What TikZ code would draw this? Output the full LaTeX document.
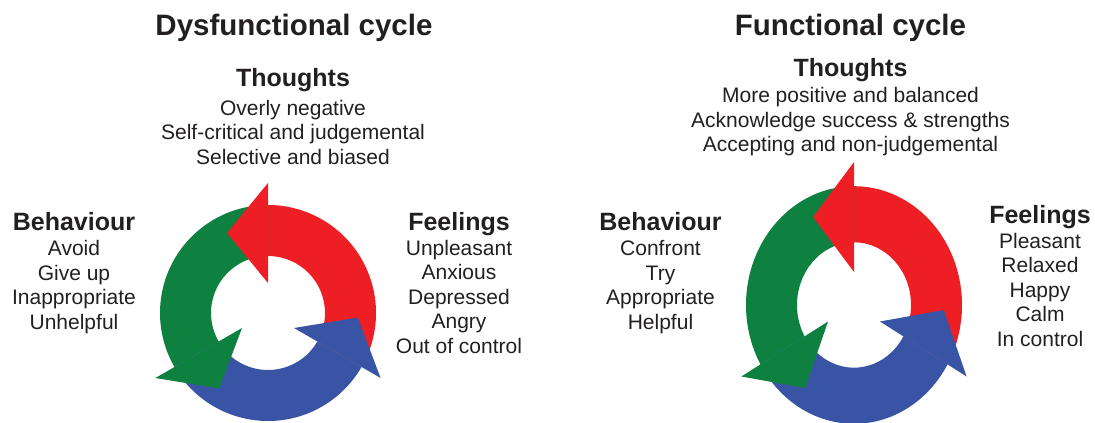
\documentclass[tikz,border=0pt]{standalone}
\usepackage{fontspec}
\setmainfont{Liberation Sans}
\definecolor{ink}{RGB}{35,31,32}
\definecolor{cycred}{RGB}{237,31,36}
\definecolor{cycgreen}{RGB}{14,128,63}
\definecolor{cycblue}{RGB}{57,84,164}
% centred lines whose baseline is that of the first line
\newcommand\stackedlines[1]{\begin{tabular}[t]{@{}c@{}}#1\end{tabular}}
\tikzset{
  cycletitle/.style={font=\fontsize{29.5}{34}\selectfont\bfseries, text=ink, inner sep=0pt, anchor=base},
  heading/.style={font=\fontsize{25}{30}\selectfont\bfseries, text=ink, inner sep=0pt, anchor=base},
  bodytext/.style={font=\fontsize{21}{24.5}\selectfont, text=ink, inner sep=0pt, anchor=base},
  % three arrows chasing each other round a ring
  cyclering/.pic={
    % ring segments (bodies)
    \foreach \from/\to/\col in {-30/90/cycred, 90/210/cycgreen, 210/330/cycblue}{
      \fill[\col] (\from:108) arc[start angle=\from, end angle=\to, radius=108]
        -- (\to:57) arc[start angle=\to, end angle=\from, radius=57] -- cycle;
    }
    % arrow heads, each lying over the next body
    \foreach \base/\tip/\col in {90/117.1/cycred, 210/237.1/cycgreen, 330/357.1/cycblue}{
      \fill[\col] (\base:30) -- (\base:130) -- (\tip:89.9) -- cycle;
    }
  }
}
\begin{document}
\begin{tikzpicture}[x=1pt,y=-1pt]
\useasboundingbox (0,0) rectangle (1095,423);

% dysfunctional cycle
\node[cycletitle] (dtitle) at (294,35) {Dysfunctional cycle};
\node[heading] (dthoughts) at (293,86.7) {Thoughts};
\node[bodytext] (dthoughtsb) at (293,115) {\stackedlines{Overly negative\\Self-critical and judgemental\\Selective and biased}};
\node[heading] (dbehav) at (74,230) {Behaviour};
\node[bodytext] (dbehavb) at (74,255.7) {\stackedlines{Avoid\\Give up\\Inappropriate\\Unhelpful}};
\node[heading] (dfeel) at (459,230) {Feelings};
\node[bodytext] (dfeelb) at (459,255.3) {\stackedlines{Unpleasant\\Anxious\\Depressed\\Angry\\Out of control}};
\pic[yscale=-1] (dring) at (268,313) {cyclering};

% functional cycle
\node[cycletitle] (ftitle) at (850.5,35) {Functional cycle};
\node[heading] (fthoughts) at (850.5,76) {Thoughts};
\node[bodytext] (fthoughtsb) at (850.5,102.7) {\stackedlines{More positive and balanced\\Acknowledge success \& strengths\\Accepting and non-judgemental}};
\node[heading] (fbehav) at (660.5,230) {Behaviour};
\node[bodytext] (fbehavb) at (660.5,255.5) {\stackedlines{Confront\\Try\\Appropriate\\Helpful}};
\node[heading] (ffeel) at (1040,223.3) {Feelings};
\node[bodytext] (ffeelb) at (1040,248.3) {\stackedlines{Pleasant\\Relaxed\\Happy\\Calm\\In control}};
\pic[yscale=-1.1] (fring) at (854,305) {cyclering};
\end{tikzpicture}
\end{document}
